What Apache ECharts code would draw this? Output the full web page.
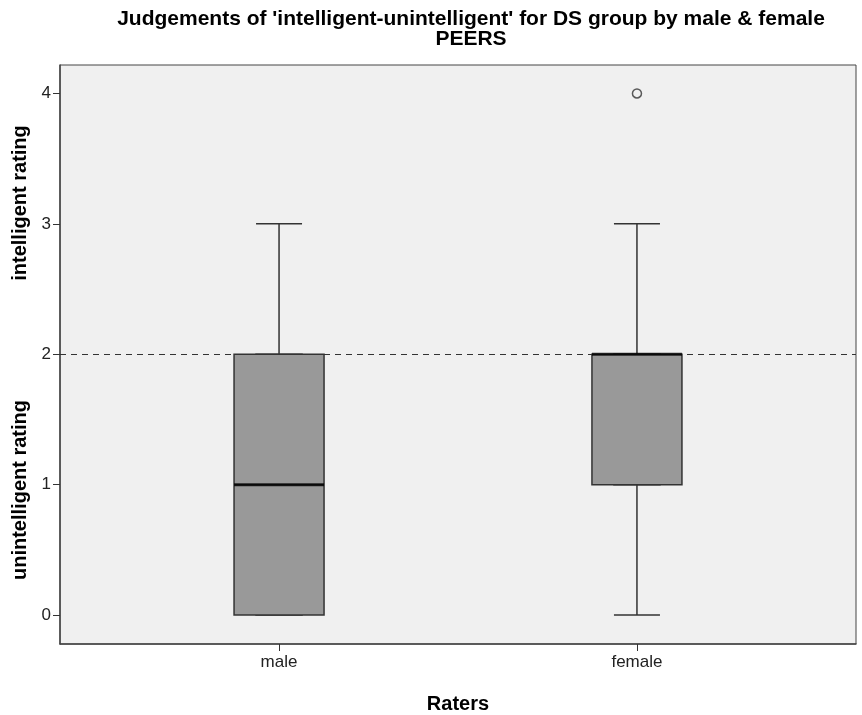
<!DOCTYPE html>
<html>
<head>
<meta charset="utf-8">
<script src="https://cdn.jsdelivr.net/npm/echarts@6/dist/echarts.min.js"></script>
<style>html,body{margin:0;padding:0;background:#fff;}#c{width:862px;height:715px;}</style>
</head>
<body>
<div id="c"></div>
<script>
// ---- data ----
const categories = ['male', 'female'];
const categoryPos = [1, 2];
// [min, Q1, median, Q3, max]
const boxStats = [
  [0, 0, 1, 2, 3],
  [0, 1, 2, 2, 3]
];
const outliers = [[2, 4]];
const referenceValue = 2;
const yTicks = [0, 1, 2, 3, 4];
const titleText = "Judgements of 'intelligent-unintelligent' for DS group by male & female\nPEERS";
const xName = 'Raters';
const yNameTop = 'intelligent rating';
const yNameBottom = 'unintelligent rating';

// whiskers layer (narrow caps) and box layer (whiskers collapsed onto box)
const whiskerData = boxStats.map((s, i) => [categoryPos[i]].concat(s));
const boxData = boxStats.map((s, i) => [categoryPos[i], s[1], s[1], s[2], s[3], s[3]]);
const medianData = boxStats.map((s, i) => [categoryPos[i], s[2]]);

const chart = echarts.init(document.getElementById('c'), null, {renderer: 'canvas'});
const FONT = 'Liberation Sans, Arial, sans-serif';
const X_MIN = 0.388, X_MAX = 2.612;
chart.setOption({
  backgroundColor: '#ffffff',
  animation: false,
  title: {
    text: titleText,
    left: 466, top: 4, textAlign: 'center',
    textStyle: {fontFamily: FONT, fontSize: 21, fontWeight: 'bold', color: '#000', lineHeight: 20}
  },
  grid: {
    left: 60, right: 6, top: 65, bottom: 71, outerBoundsMode: 'none', containLabel: false,
    show: true, backgroundColor: '#f0f0f0', borderColor: '#444', borderWidth: 1
  },
  xAxis: [{
    type: 'value', min: X_MIN, max: X_MAX,
    name: xName, nameLocation: 'middle', nameGap: 50,
    nameTextStyle: {fontFamily: FONT, fontSize: 20, fontWeight: 'bold', color: '#000'},
    splitLine: {show: false},
    axisLine: {show: true, onZero: false, lineStyle: {color: '#444', width: 1.5}},
    axisTick: {show: true, customValues: categoryPos, length: 7, lineStyle: {color: '#333'}},
    axisLabel: {
      customValues: categoryPos, margin: 10,
      fontFamily: FONT, fontSize: 17, color: '#222',
      formatter: v => categories[categoryPos.indexOf(v)] || ''
    }
  }, {
    type: 'value', min: X_MIN, max: X_MAX, show: false, position: 'bottom',
    splitLine: {show: false}
  }],
  yAxis: {
    type: 'value', min: -0.222, max: 4.218,
    splitLine: {show: false},
    axisLine: {show: true, onZero: false, lineStyle: {color: '#444', width: 1.5}},
    axisTick: {show: true, customValues: yTicks, length: 7, lineStyle: {color: '#333'}},
    axisLabel: {customValues: yTicks, margin: 9, fontFamily: FONT, fontSize: 17, color: '#222'}
  },
  graphic: [
    {type: 'text', x: 20, y: 203, rotation: Math.PI / 2,
     style: {text: yNameTop, font: 'bold 20px ' + FONT, fill: '#000', align: 'center', verticalAlign: 'middle'}},
    {type: 'text', x: 20, y: 490, rotation: Math.PI / 2,
     style: {text: yNameBottom, font: 'bold 20px ' + FONT, fill: '#000', align: 'center', verticalAlign: 'middle'}}
  ],
  series: [
    {
      type: 'boxplot',
      xAxisIndex: 0,
      data: whiskerData,
      boxWidth: [46, 46],
      itemStyle: {color: '#999999', borderColor: '#333', borderWidth: 1.5},
      markLine: {
        silent: true, symbol: 'none', label: {show: false},
        lineStyle: {type: [6, 5], color: '#333', width: 1},
        data: [{yAxis: referenceValue}]
      },
      z: 3
    },
    {
      type: 'boxplot',
      xAxisIndex: 1,
      data: boxData,
      boxWidth: [90, 90],
      itemStyle: {color: '#999999', borderColor: '#333', borderWidth: 1.5},
      z: 4
    },
    {
      type: 'scatter',
      data: medianData,
      symbol: 'rect', symbolSize: [90, 3],
      itemStyle: {color: '#000'},
      z: 5
    },
    {
      type: 'scatter',
      data: outliers,
      symbol: 'circle', symbolSize: 9,
      itemStyle: {color: '#f0f0f0', borderColor: '#333', borderWidth: 1.5},
      z: 5
    }
  ]
});
</script>
</body>
</html>
